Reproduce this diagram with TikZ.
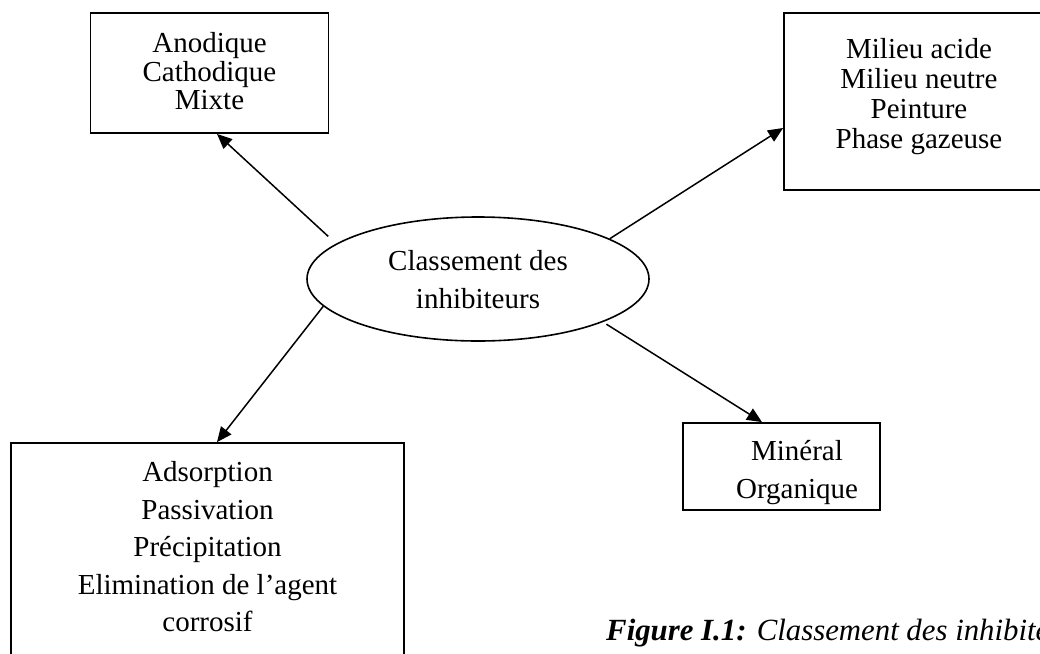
\documentclass[tikz,border=0pt]{standalone}
\usepackage{fontspec}
\setmainfont{Liberation Serif}
\usetikzlibrary{arrows.meta,shapes.geometric}
\newcommand\myTop[1]{\rule{0pt}{#1pt}}
\newcommand\myBot[1]{\rule[-#1pt]{0pt}{#1pt}}
\begin{document}
\begin{tikzpicture}[x=1pt,y=-1pt,
  box/.style={draw, line width=1.8pt, rectangle, inner sep=0pt, align=center,
    font=\fontsize{29}{#1}\selectfont},
  oval/.style={draw, line width=1.6pt, ellipse, inner sep=0pt, align=center,
    font=\fontsize{29}{38}\selectfont},
  conn/.style={line width=1.5pt, -{Triangle[length=15pt,width=13pt]}},
  caption/.style={anchor=base west, inner sep=0pt,
    font=\fontsize{30.8}{36}\selectfont\itshape}
]
\useasboundingbox (0,0) rectangle (1040,653);
\clip (0,0) rectangle (1040,653);

\node[box=28.5, minimum width=238pt, minimum height=120pt] (b1) at (209.5,73)
  {\myTop{25}Anodique\\Cathodique\\Mixte\myBot{9}};
\node[box=30, minimum width=270pt, minimum height=177pt] (b2) at (919,101.5)
  {\myTop{25}Milieu acide\\Milieu neutre\\Peinture\\Phase gazeuse\myBot{21.4}};
\node[box=37.5, minimum width=393pt, minimum height=257pt] (b3) at (207.5,571.5)
  {\myTop{25}Adsorption\\Passivation\\Pr\'ecipitation\\Elimination de l'agent\\corrosif\myBot{55}};
\node[box=38, minimum width=197pt, minimum height=87pt] (b4) at (781.5,466.5)
  {\myTop{32}\hspace*{31pt}Min\'eral\\\hspace*{31pt}Organique\myBot{7}};

\node[oval, minimum width=342pt, minimum height=124pt] (el) at (478,279)
  {\myTop{25}Classement des\\inhibiteurs\myBot{5}};

\draw[conn, shorten <=10.6pt] (el.166.2) -- ([xshift=7.5pt]b1.south);
\draw[conn] (el.17.8) -- ([yshift=-26.5pt]b2.west);
\draw[conn] (el.190.9) -- ([xshift=9.5pt]b3.north);
\draw[conn, shorten <=4pt] (el.341.7) -- ([xshift=-19.5pt]b4.north);

\node[caption] (cap) at (606,640) {{\bfseries Figure I.1:} Classement des inhibiteurs};
\end{tikzpicture}
\end{document}
